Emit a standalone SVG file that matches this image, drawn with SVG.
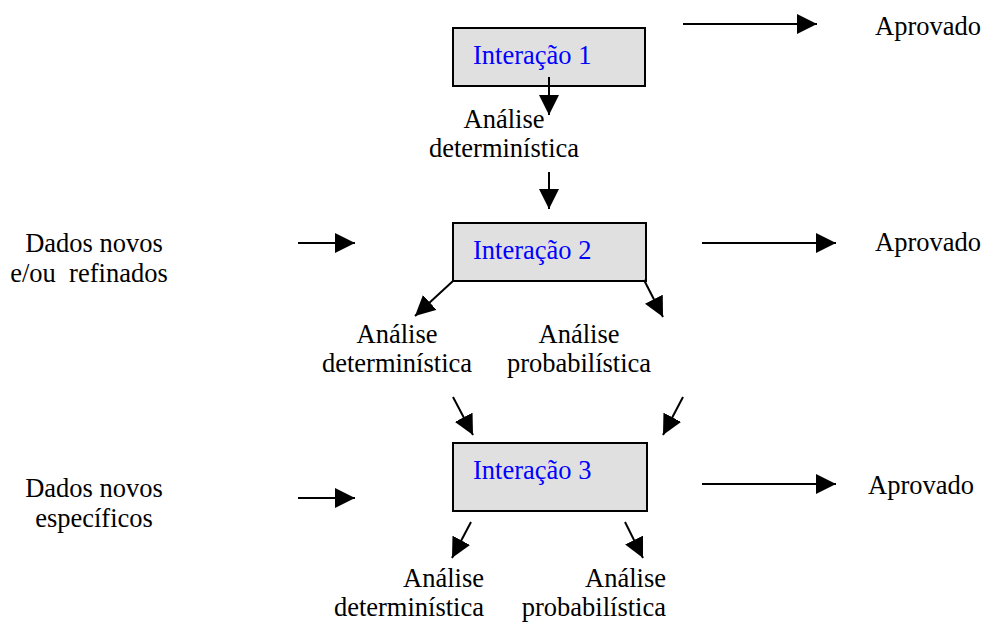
<svg xmlns="http://www.w3.org/2000/svg" width="984" height="622" viewBox="0 0 984 622">
<style>
text{font-size:26.5px;fill:#000;white-space:pre}
.lbl{fill:#0000ff}
.box{fill:#e0e0e0;stroke:#000;stroke-width:2}
.c line{stroke:#000;stroke-width:2;marker-end:url(#ah)}
.m{text-anchor:middle}
.e{text-anchor:end}
</style>
<defs>
<marker id="ah" markerUnits="userSpaceOnUse" markerWidth="20" markerHeight="20" refX="20" refY="10" orient="auto">
<path d="M0,0 L20,10 L0,20 z" fill="#000"/>
</marker>
</defs>
<rect width="984" height="622" fill="#fff"/>
<g font-family="'Liberation Serif', 'DejaVu Serif', serif">
<g id="n1"><rect class="box" x="453" y="28" width="192" height="58"/><text class="lbl" x="473" y="64">Interação 1</text></g>
<g id="n2"><rect class="box" x="453" y="223" width="193" height="58"/><text class="lbl" x="473" y="259">Interação 2</text></g>
<g id="n3"><rect class="box" x="453" y="443" width="194" height="68"/><text class="lbl" x="473" y="479">Interação 3</text></g>
<g id="ap1"><text x="875" y="35">Aprovado</text></g>
<g id="ap2"><text x="875" y="251">Aprovado</text></g>
<g id="ap3"><text x="868" y="494">Aprovado</text></g>
<g id="a1"><text class="m" x="504" y="128">Análise</text><text class="m" x="504" y="157">determinística</text></g>
<g id="d2"><text class="m" x="94" y="252">Dados novos</text><text class="m" x="89" y="282">e/ou  refinados</text></g>
<g id="d3"><text class="m" x="94" y="497">Dados novos</text><text class="m" x="94" y="527">específicos</text></g>
<g id="a2d"><text class="m" x="397" y="343">Análise</text><text class="m" x="397" y="372">determinística</text></g>
<g id="a2p"><text class="m" x="579" y="343">Análise</text><text class="m" x="579" y="372">probabilística</text></g>
<g id="a3d"><text class="e" x="484" y="587">Análise</text><text class="e" x="484" y="616">determinística</text></g>
<g id="a3p"><text class="e" x="666" y="587">Análise</text><text class="e" x="666" y="616">probabilística</text></g>
</g>
<g id="connectors" class="c">
<line x1="683" y1="24" x2="817" y2="24"/>
<line x1="549" y1="77" x2="549" y2="115"/>
<line x1="549" y1="172" x2="549" y2="209"/>
<line x1="298" y1="243" x2="355" y2="243"/>
<line x1="702" y1="243" x2="836" y2="243"/>
<line x1="453" y1="281" x2="415" y2="316"/>
<line x1="644" y1="280" x2="663" y2="317"/>
<line x1="453" y1="397" x2="473" y2="435"/>
<line x1="683" y1="397" x2="663" y2="435"/>
<line x1="298" y1="498" x2="355" y2="498"/>
<line x1="702" y1="484" x2="836" y2="484"/>
<line x1="471" y1="522" x2="452" y2="558"/>
<line x1="625" y1="522" x2="643" y2="558"/>
</g>
</svg>
